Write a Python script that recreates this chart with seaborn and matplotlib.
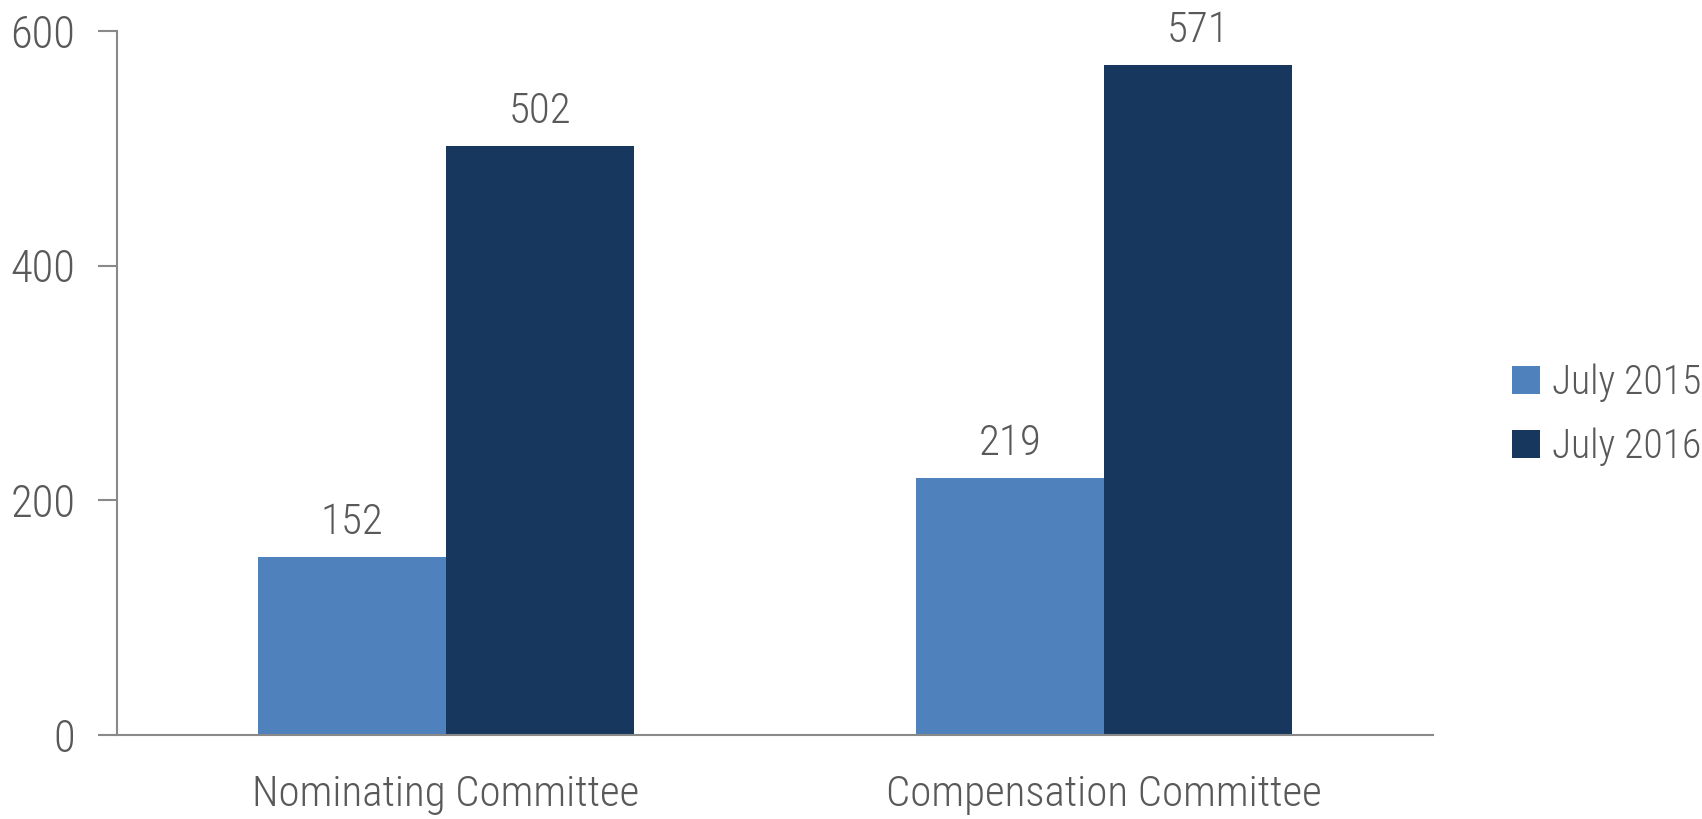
import matplotlib
matplotlib.use("Agg")
import matplotlib.pyplot as plt
from matplotlib import font_manager
import seaborn as sns
import pandas as pd

categories = ["Nominating Committee", "Compensation Committee"]
periods = ["July 2015", "July 2016"]
values_2015 = [152, 219]
values_2016 = [502, 571]
y_ticks = [0, 200, 400, 600]

colors = ["#4F81BD", "#17375E"]
text_color = "#595959"
axis_color = "#898989"

available = {f.name for f in font_manager.fontManager.ttflist}
family = next((f for f in ["Liberation Sans Narrow", "Roboto Condensed", "Roboto", "DejaVu Sans"]
               if f in available), "DejaVu Sans")

sns.set_theme(style="white")
plt.rcParams["font.family"] = [family, "DejaVu Sans"]
plt.rcParams["font.weight"] = "light"

df = pd.DataFrame({
    "Committee": categories * 2,
    "Period": [periods[0]] * 2 + [periods[1]] * 2,
    "Count": values_2015 + values_2016,
})

fig = plt.figure(figsize=(17.02, 8.19), dpi=100)
ax = fig.add_axes([0.0687, 0.1026, 0.7733, 0.8594])

sns.barplot(data=df, x="Committee", y="Count", hue="Period", order=categories,
            hue_order=periods, palette=colors, width=0.57, saturation=1,
            gap=0, ax=ax, errorbar=None, linewidth=0)

for container in ax.containers:
    ax.bar_label(container, fmt="%d", padding=10, fontsize=31, color=text_color)

ax.set_xlim(-0.5, 1.5)
ax.set_ylim(0, 600)
ax.set_yticks(y_ticks)
ax.set_yticklabels([str(v) for v in y_ticks])
ax.set_xticks([0, 1])
ax.set_xticklabels(categories)
ax.set_xlabel("")
ax.set_ylabel("")

# tick marks sit on the category boundaries, labels at the centers
ax.set_xticks([-0.5, 0.5, 1.5], minor=True)
ax.tick_params(axis="x", which="major", length=0, pad=28, labelsize=31, labelcolor=text_color)
ax.tick_params(axis="x", which="minor", length=14, width=1.5, color=axis_color, direction="out")
ax.tick_params(axis="y", length=14, width=1.5, color=axis_color, direction="out",
               pad=16, labelsize=32, labelcolor=text_color, left=True)

for side in ["top", "right"]:
    ax.spines[side].set_visible(False)
for side in ["left", "bottom"]:
    ax.spines[side].set_color(axis_color)
    ax.spines[side].set_linewidth(1.5)

handles, labels = ax.get_legend_handles_labels()
ax.legend(handles, labels, loc="center left", bbox_to_anchor=(1.045, 0.455),
          frameon=False, fontsize=28.5, labelcolor=text_color, handlelength=0.7,
          handleheight=0.7, handletextpad=0.3, labelspacing=0.65, borderpad=0)

fig.savefig("out.png", dpi=100, facecolor="white")
